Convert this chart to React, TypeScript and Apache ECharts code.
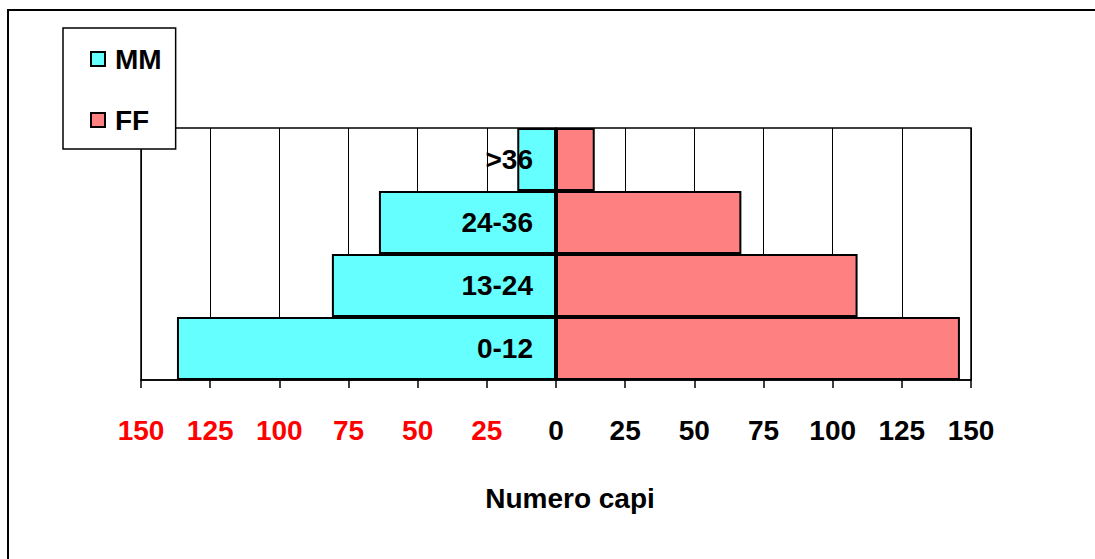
import React, { useEffect, useRef } from "react";
import * as echarts from "echarts";

const categories = ["0-12", "13-24", "24-36", ">36"];
const maleValues = [137, 81, 64, 14];
const femaleValues = [146, 109, 67, 14];
const seriesNames = ["MM", "FF"];
const axisTitle = "Numero capi";

const FONT = "'Liberation Sans', Arial, sans-serif";
const FS = 28;

export default function App() {
  const ref = useRef<HTMLDivElement>(null);
  useEffect(() => {
    if (!ref.current) return;
    const chart = echarts.init(ref.current, null, { renderer: "svg" });
    chart.setOption({
      animation: false,
      backgroundColor: "#ffffff",
      textStyle: { fontFamily: FONT },
      graphic: [
        {
          type: "rect",
          z: -10,
          silent: true,
          shape: { x: 8, y: 10, width: 1100, height: 560 },
          style: { fill: "none", stroke: "#000", lineWidth: 2 },
        },
      ],
      legend: {
        orient: "vertical",
        left: 63,
        top: 28,
        data: seriesNames,
        backgroundColor: "#fff",
        borderColor: "#000",
        borderWidth: 1.5,
        borderRadius: 0,
        padding: [17, 14, 15, 27],
        itemGap: 33,
        itemWidth: 14,
        itemHeight: 14,
        icon: "rect",
        z: 10,
        selectedMode: false,
        textStyle: {
          fontSize: FS,
          fontWeight: "bold",
          color: "#000",
          fontFamily: FONT,
          lineHeight: 28,
          padding: [0, 0, 0, 5],
        },
      },
      grid: {
        left: 141,
        right: 124,
        top: 128,
        bottom: 179,
        show: true,
        borderColor: "#000",
        borderWidth: 1.5,
        backgroundColor: "transparent",
      },
      xAxis: {
        type: "value",
        min: -150,
        max: 150,
        interval: 25,
        name: axisTitle,
        nameLocation: "middle",
        nameGap: 104,
        nameTextStyle: {
          fontSize: FS,
          fontWeight: "bold",
          color: "#000",
          fontFamily: FONT,
          padding: [0, 0, 0, 28],
        },
        axisLine: { show: true, lineStyle: { color: "#000", width: 1.5 } },
        axisTick: { show: true, length: 8, lineStyle: { color: "#000", width: 1.5 } },
        splitLine: { show: true, lineStyle: { color: "#000", width: 1 } },
        axisLabel: {
          margin: 36,
          formatter: (v: number) => (v < 0 ? `{r|${-v}}` : `{b|${v}}`),
          rich: {
            r: { fontSize: FS, fontWeight: "bold", color: "#ff0000", fontFamily: FONT },
            b: { fontSize: FS, fontWeight: "bold", color: "#000000", fontFamily: FONT },
          },
        },
      },
      yAxis: {
        type: "category",
        data: categories,
        z: 10,
        axisLine: { show: true, lineStyle: { color: "#000", width: 1.5 } },
        axisTick: { show: false },
        splitLine: { show: false },
        axisLabel: {
          margin: -392,
          fontSize: FS,
          fontWeight: "bold",
          color: "#000",
          fontFamily: FONT,
        },
      },
      series: [
        {
          name: seriesNames[0],
          type: "bar",
          stack: "pyr",
          barCategoryGap: 0,
          data: maleValues.map((v) => -v),
          itemStyle: { color: "#66FFFF", borderColor: "#000", borderWidth: 2 },
        },
        {
          name: seriesNames[1],
          type: "bar",
          stack: "pyr",
          barCategoryGap: 0,
          data: femaleValues,
          itemStyle: { color: "#FF8080", borderColor: "#000", borderWidth: 2 },
        },
      ],
    });
    return () => chart.dispose();
  }, []);
  return (
    <div
      ref={ref}
      style={{ position: "absolute", left: 0, top: 0, width: 1095, height: 559 }}
    />
  );
}
